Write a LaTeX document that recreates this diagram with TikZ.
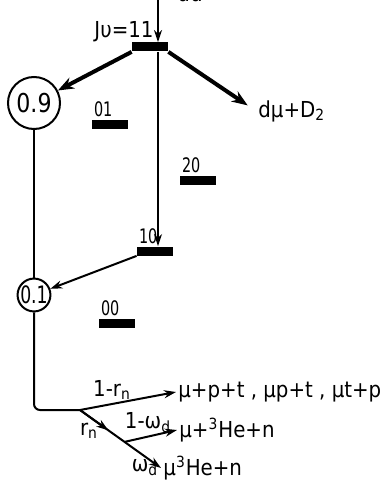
\documentclass[tikz,border=0pt]{standalone}
\usepackage{fontspec}
\setmainfont{DejaVu Sans}[FakeStretch=0.9]
\newfontfamily\narrowdigits{DejaVu Sans}[FakeStretch=0.72]
\newfontfamily\circledigits{DejaVu Sans}[FakeStretch=0.85]
\usetikzlibrary{arrows.meta, calc}
\tikzstyle{level} = [rectangle, fill=black, inner sep=0pt, minimum width=18pt,
minimum height=4.5pt]
\tikzstyle{state} = [circle, draw=black, line width=1pt, inner sep=0pt,
font=\circledigits\fontsize{13}{14}\selectfont]
\tikzstyle{lbl} = [inner sep=1pt, font=\fontsize{11}{12}\selectfont]
\tikzstyle{tag} = [inner sep=1pt, anchor=south west,
font=\narrowdigits\fontsize{10}{12}\selectfont]
\tikzstyle{line} = [line width=1pt]
\tikzstyle{arrow} = [line width=1pt, -{Stealth[length=6pt, width=4pt]}]
\tikzstyle{bigarrow} = [line width=2pt, -{Stealth[length=8pt, width=6pt]}]

\begin{document}
\begin{tikzpicture}[x=0.5pt, y=-0.5pt]
\useasboundingbox (0,0) rectangle (390,481);

\coordinate(top) at (158,0);
\node(dd)[lbl, anchor=south] at (190,4) {dd};
\node(jv)[lbl] at (124,32) {Jυ=11};
\node(b11)[level] at (150,47) {};

\node(c09)[state, minimum size=26pt] at (34,103) {0.9};
\node(dmu)[lbl, anchor=west] at (256,111) {dμ+D\textsubscript{2}};

\node(b01)[level] at (110,124) {};
\node(l01)[tag] at (b01.north west) {01};
\node(b20)[level] at (198,180) {};
\node(l20)[tag] at (b20.north west) {20};
\node(b10)[level] at (155,251) {};
\node(l10)[tag] at (b10.north west) {10};
\node(b00)[level] at (117,323) {};
\node(l00)[tag] at (b00.north west) {00};

\node(c01)[state, minimum size=16pt, font=\narrowdigits\fontsize{12}{13}\selectfont]
at (34,295) {0.1};

\coordinate(split) at (80,410);
\node(ppt)[lbl, anchor=west] at (176,392) {μ+p+t , μp+t , μt+p};
\node(muhe)[lbl, anchor=west] at (177,430) {μ+\textsuperscript{3}He+n};
\node(mu3he)[lbl, anchor=west] at (161,468) {μ\textsuperscript{3}He+n};
\node(lrn)[lbl] at (112,390) {1-r\textsubscript{n}};
\node(rn)[lbl] at (89,431) {r\textsubscript{n}};
\node(lwd)[lbl] at (148,423) {1-ω\textsubscript{d}};
\node(wd)[lbl] at (145,468) {ω\textsubscript{d}};

\draw[arrow](top) -- (b11.north -| top);
\draw[bigarrow](b11.south west) -- (c09);
\draw[bigarrow, shorten >=5pt](b11.south east) -- (dmu.west);
\draw[arrow](b11.south -| top) -- (b10.north -| top);
\draw[line](c09) -- (c01);
\draw[arrow](b10.south west) -- (c01);
\draw[line, rounded corners=3pt](c01) |- (split);

\draw[arrow](split) -- (ppt.west);
\draw[arrow](split) -- (mu3he.west);
\draw[arrow](split) -- ($(split)!0.35!(mu3he.west)$);
\draw[arrow]($(split)!0.55!(mu3he.west)$) -- (muhe.west);

\end{tikzpicture}
\end{document}
